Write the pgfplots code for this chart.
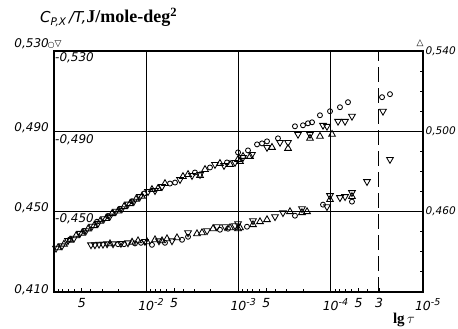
\documentclass[border=0pt]{standalone}
\usepackage{pgfplots}
\pgfplotsset{compat=1.18}
\usepackage{fontspec}
\setmainfont{Liberation Serif}
\newfontfamily\lab{DejaVu Sans}
\newfontfamily\sym{DejaVu Sans}
\newcommand\tp[1]{10\rlap{\raisebox{0.75ex}{\fontsize{9.5}{9.5}\selectfont -#1}}}
\tikzset{lb/.style={font=\lab\itshape\fontsize{12}{14}\selectfont, inner sep=0pt},
         rb/.style={font=\lab\itshape\fontsize{10.5}{14}\selectfont, inner sep=0pt}}
\begin{document}
\begin{tikzpicture}
\begin{axis}[
  scale only axis, width=369pt, height=241pt,
  xmin=-5, xmax=-1, x dir=reverse,
  ymin=0.410, ymax=0.530,
  ytick=\empty,
  xtick={-1.30103,-2,-2.30103,-3,-3.30103,-4,-4.30103,-4.52288,-5},
  xticklabels={5,\tp{2},5,\tp{3},5,\tp{4},5,3,\tp{5}},
  minor xtick={-1.04576,-1.09691,-1.15490,-1.22185,-1.39794,-1.52288,-1.69897,
     -2.04576,-2.09691,-2.15490,-2.22185,-2.39794,-2.52288,-2.69897,
     -3.04576,-3.09691,-3.15490,-3.22185,-3.39794,-3.52288,-3.69897,
     -4.04576,-4.09691,-4.15490,-4.22185,-4.39794},
  xtick pos=left, tick align=inside,
  major tick length=4.5pt, minor tick length=3pt,
  tick style={black, line width=0.9pt},
  xticklabel style={font=\lab\itshape\fontsize{12.5}{12.5}\selectfont, yshift=-3pt},
  axis line style={black, line width=1.1pt},
  clip=false,
]
% reference lines
\draw[line width=1pt] (axis cs:-2,0.410) -- (axis cs:-2,0.530);
\draw[line width=1pt] (axis cs:-3,0.410) -- (axis cs:-3,0.530);
\draw[line width=1pt] (axis cs:-4,0.410) -- (axis cs:-4,0.530);
\draw[line width=1pt, dash pattern=on 15pt off 6pt] (axis cs:-4.52288,0.410) -- (axis cs:-4.52288,0.530);
\draw[line width=1pt] (axis cs:-1,0.450) -- (axis cs:-5,0.450);
\draw[line width=1pt] (axis cs:-1,0.490) -- (axis cs:-5,0.490);
% right-hand inward ticks
\draw[line width=0.9pt] (axis cs:-5,0.420) -- ++(-3.5pt,0pt);
\draw[line width=0.9pt] (axis cs:-5,0.430) -- ++(-3.5pt,0pt);
\draw[line width=0.9pt] (axis cs:-5,0.440) -- ++(-3.5pt,0pt);
\draw[line width=0.9pt] (axis cs:-5,0.460) -- ++(-3.5pt,0pt);
\draw[line width=0.9pt] (axis cs:-5,0.470) -- ++(-3.5pt,0pt);
\draw[line width=0.9pt] (axis cs:-5,0.480) -- ++(-3.5pt,0pt);
\draw[line width=0.9pt] (axis cs:-5,0.500) -- ++(-3.5pt,0pt);
\draw[line width=0.9pt] (axis cs:-5,0.510) -- ++(-3.5pt,0pt);
\draw[line width=0.9pt] (axis cs:-5,0.520) -- ++(-3.5pt,0pt);

% circles
\addplot[only marks, mark=o, mark size=2.5pt, mark options={line width=0.85pt, black}] table {
-1.173 0.4362
-1.325 0.4404
-1.466 0.4450
-1.585 0.4478
-1.715 0.4514
-1.846 0.4552
-1.976 0.4590
-2.257 0.4640
-2.312 0.4645
-2.528 0.4695
-2.691 0.4720
-2.875 0.4745
-2.995 0.4795
-3.103 0.4805
-3.201 0.4835
-3.255 0.4840
-3.309 0.4850
-3.428 0.4865
-3.612 0.4925
-3.699 0.4930
-3.753 0.4940
-3.797 0.4945
-3.883 0.4980
-3.992 0.5000
-4.100 0.5020
-4.187 0.5045
-4.556 0.5070
-4.642 0.5085
-1.694 0.4338
-1.759 0.4338
-1.878 0.4342
-1.943 0.4345
-2.062 0.4335
-2.203 0.4345
-2.388 0.4360
-2.453 0.4375
-2.799 0.4410
-2.886 0.4415
-3.092 0.4425
-3.612 0.4480
-3.916 0.4535
-4.230 0.4550
};
% down triangles
\addplot[only marks, mark=triangle, mark size=3.9pt, mark options={rotate=180, line width=0.85pt, black}] table {
-1.022 0.4318
-1.087 0.4330
-1.152 0.4356
-1.217 0.4368
-1.282 0.4392
-1.347 0.4405
-1.412 0.4428
-1.477 0.4442
-1.542 0.4465
-1.607 0.4478
-1.672 0.4502
-1.737 0.4515
-1.802 0.4538
-1.867 0.4552
-1.932 0.4575
-2.019 0.4600
-2.095 0.4605
-2.171 0.4625
-2.366 0.4660
-2.496 0.4680
-2.583 0.4685
-2.745 0.4735
-2.843 0.4730
-2.962 0.4745
-3.049 0.4770
-3.146 0.4785
-3.309 0.4820
-3.450 0.4845
-3.537 0.4845
-3.645 0.4885
-3.775 0.4885
-3.916 0.4930
-3.959 0.4925
-4.079 0.4950
-4.155 0.4950
-4.230 0.4975
-4.566 0.5000
-1.401 0.4335
-1.444 0.4335
-1.488 0.4338
-1.531 0.4338
-1.575 0.4340
-1.640 0.4340
-1.726 0.4342
-1.802 0.4345
-1.986 0.4352
-2.138 0.4355
-2.279 0.4355
-2.453 0.4395
-2.659 0.4405
-2.767 0.4425
-2.854 0.4425
-2.962 0.4430
-2.995 0.4440
-3.157 0.4455
-3.396 0.4475
-3.482 0.4495
-3.688 0.4515
-3.959 0.4525
-3.992 0.4580
-4.100 0.4570
-4.155 0.4575
-4.230 0.4595
-4.393 0.4650
-4.642 0.4760
};
% up triangles
\addplot[only marks, mark=triangle, mark size=3.9pt, mark options={line width=0.85pt, black}] table {
-1.043 0.4320
-1.108 0.4338
-1.174 0.4358
-1.239 0.4380
-1.304 0.4393
-1.369 0.4414
-1.434 0.4430
-1.499 0.4452
-1.564 0.4466
-1.629 0.4490
-1.694 0.4503
-1.759 0.4525
-1.824 0.4540
-1.889 0.4562
-1.954 0.4577
-2.062 0.4610
-2.127 0.4615
-2.203 0.4640
-2.398 0.4675
-2.453 0.4685
-2.583 0.4680
-2.637 0.4710
-2.799 0.4740
-2.908 0.4735
-3.016 0.4750
-2.995 0.4760
-3.049 0.4775
-3.125 0.4775
-3.363 0.4820
-3.537 0.4815
-3.775 0.4865
-3.883 0.4875
-4.014 0.4885
-1.607 0.4340
-1.846 0.4348
-1.911 0.4355
-2.008 0.4350
-2.095 0.4360
-2.171 0.4355
-2.225 0.4365
-2.333 0.4370
-2.550 0.4390
-2.604 0.4395
-2.724 0.4415
-2.908 0.4420
-3.016 0.4420
-2.995 0.4415
-3.157 0.4435
-3.233 0.4450
-3.309 0.4460
-3.558 0.4500
-3.688 0.4495
-3.743 0.4500
-3.992 0.4560
-4.230 0.4575
};

% left outer labels
\node[lb, anchor=east, xshift=-5pt, yshift=7pt] at (axis cs:-1,0.530) {0,530};
\node[lb, anchor=east, xshift=-5pt, yshift=4pt] at (axis cs:-1,0.490) {0,490};
\node[lb, anchor=east, xshift=-5pt, yshift=4pt] at (axis cs:-1,0.450) {0,450};
\node[lb, anchor=east, xshift=-5pt, yshift=2pt] at (axis cs:-1,0.410) {0,410};
% left inner labels
\node[lb, anchor=west, xshift=1pt, yshift=-7pt] at (axis cs:-1,0.530) {-0,530};
\node[lb, anchor=west, xshift=1pt, yshift=-8pt] at (axis cs:-1,0.490) {-0,490};
\node[lb, anchor=west, xshift=1pt, yshift=-7pt] at (axis cs:-1,0.450) {-0,450};
% right labels
\node[rb, anchor=west, xshift=2.5pt] at (axis cs:-5,0.530) {0,540};
\node[rb, anchor=west, xshift=2.5pt] at (axis cs:-5,0.490) {0,500};
\node[rb, anchor=west, xshift=2.5pt] at (axis cs:-5,0.450) {0,460};
% scale keys
\node[font=\sym\fontsize{8}{8}\selectfont, inner sep=0pt, xshift=-3pt, yshift=6pt] at (axis cs:-1,0.530) {○};
\node[font=\sym\fontsize{9}{9}\selectfont, inner sep=0pt, xshift=4pt, yshift=7pt] at (axis cs:-1,0.530) {▽};
\node[font=\sym\fontsize{9}{9}\selectfont, inner sep=0pt, xshift=-3pt, yshift=8pt] at (axis cs:-5,0.530) {△};
% titles
\node[anchor=west, inner sep=0pt, xshift=-14pt, yshift=34pt] at (axis cs:-1,0.530)
  {{\lab\itshape\fontsize{15}{16}\selectfont C\textsubscript{P,X}\,/T,}{\bfseries\fontsize{18}{19}\selectfont J/mole-deg\textsuperscript{2}}};
\node[inner sep=0pt, yshift=-28pt, font=\bfseries\fontsize{15}{15}\selectfont] at (axis cs:-4.794,0.410) {lg\,$\tau$};
\end{axis}
\pgfresetboundingbox
\path[use as bounding box] ([xshift=-54pt,yshift=-36pt]current axis.south west) rectangle ([xshift=35pt,yshift=51pt]current axis.north east);
\end{tikzpicture}
\end{document}
